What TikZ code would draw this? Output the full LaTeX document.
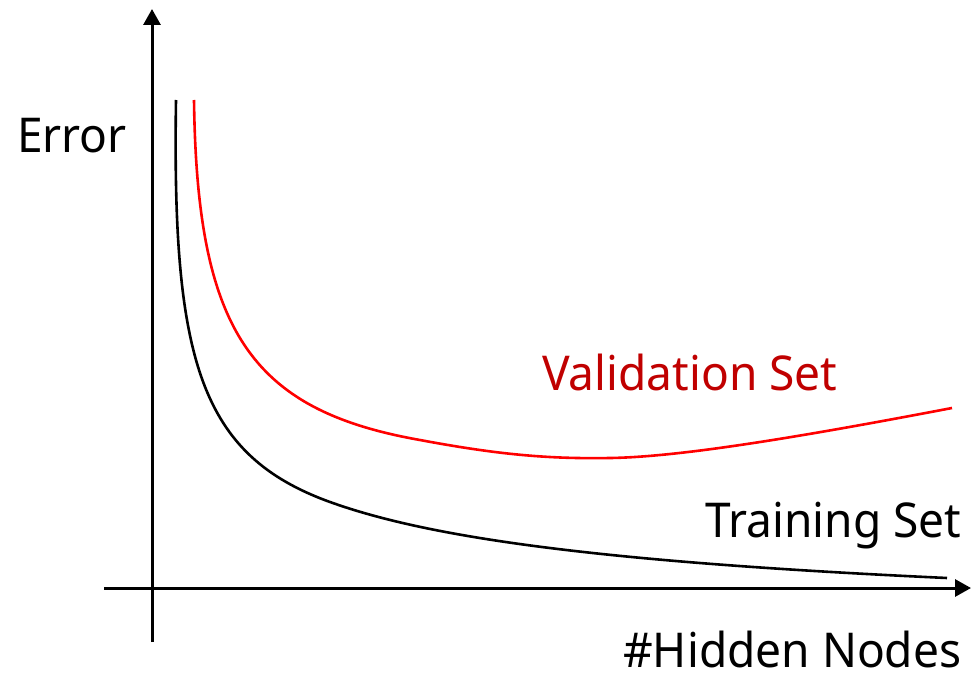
\documentclass[tikz,border=0pt]{standalone}
\usepackage{fontspec}
\setmainfont[FakeStretch=0.96]{Noto Sans}
\usetikzlibrary{arrows.meta}
\definecolor{labelred}{HTML}{C00000}
\definecolor{curvered}{HTML}{FF0000}
\tikzset{
  axis/.style={line width=3pt,-{Triangle[length=16pt,width=17pt]}},
  curve/.style={line width=2.6pt},
  lbl/.style={anchor=base west,inner sep=0pt,font=\fontsize{48}{52}\selectfont},
}
\begin{document}
\begin{tikzpicture}[x=1pt,y=-1pt]
  \useasboundingbox (0,0) rectangle (971,674);
  % axes
  \coordinate (ybot) at (152,642);
  \coordinate (ytop) at (152,9);
  \coordinate (xleft) at (104,588);
  \coordinate (xright) at (971,588);
  \draw[axis] (ybot) -- (ytop);
  \draw[axis] (xleft) -- (xright);
  % training error
  \coordinate (t0) at (176,100);
  \coordinate (t1) at (330,502);
  \coordinate (t2) at (947,578);
  \draw[curve,black] (t0) .. controls (172,360) and (200,455) .. (t1)
                          .. controls (430,538) and (600,562) .. (t2);
  % validation error
  \coordinate (v0) at (194,100);
  \coordinate (v1) at (420,440);
  \coordinate (v2) at (610,458);
  \coordinate (v3) at (952,408);
  \draw[curve,curvered] (v0) .. controls (197,330) and (250,410) .. (v1)
                             .. controls (500,455) and (550,459) .. (v2)
                             .. controls (680,457) and (800,437) .. (v3);
  % labels
  \node[lbl] (err) at (17,152) {Error};
  \node[lbl,text=labelred] (val) at (542,390) {Validation Set};
  \node[lbl] (train) at (705,537) {Training Set};
  \node[lbl] (hid) at (623,667) {\#Hidden Nodes};
\end{tikzpicture}
\end{document}
